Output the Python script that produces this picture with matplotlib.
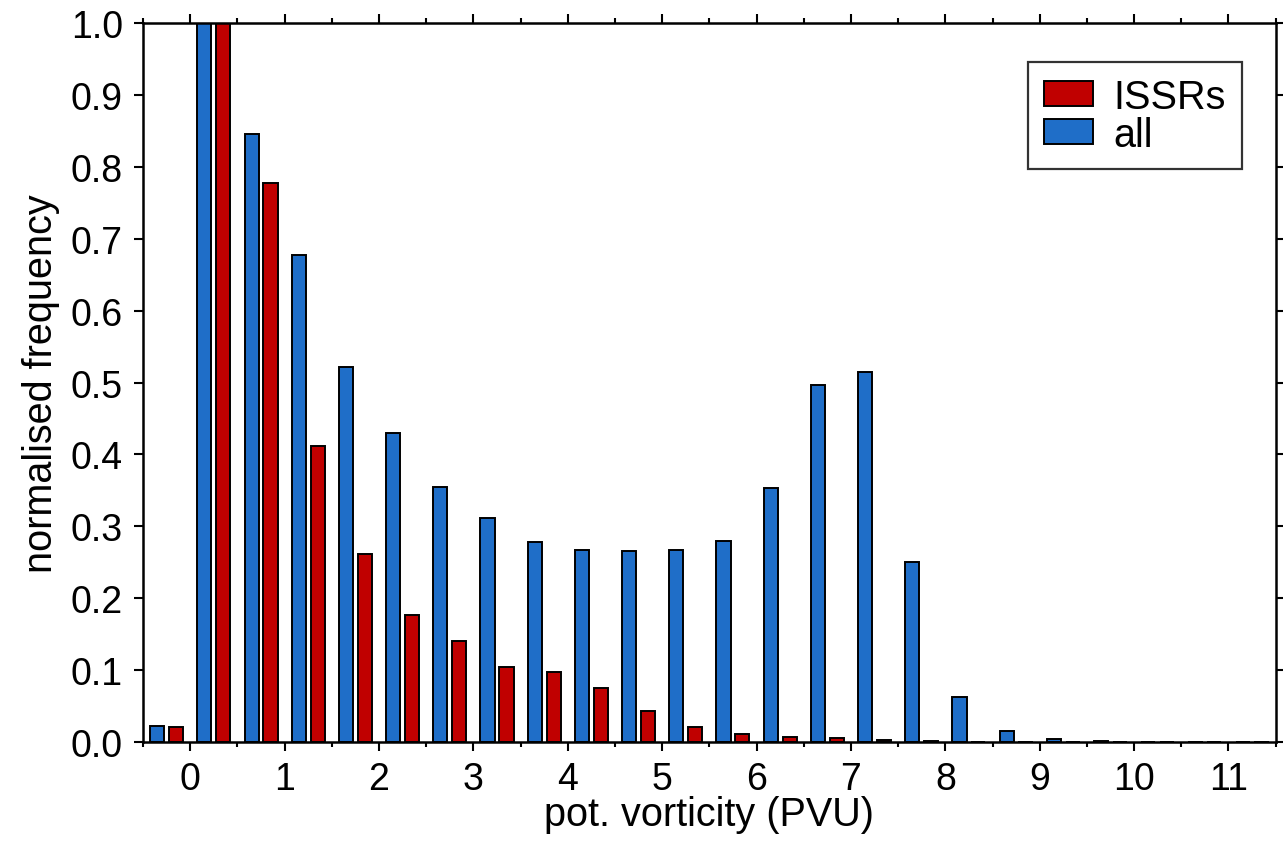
import matplotlib
matplotlib.use("Agg")
import matplotlib.pyplot as plt
import numpy as np
from matplotlib.ticker import MultipleLocator, FormatStrFormatter

plt.rcParams['font.family'] = ['Liberation Sans', 'DejaVu Sans']

# bin centres (PVU)
bin_centres = [-0.25, 0.25, 0.75, 1.25, 1.75, 2.25, 2.75, 3.25, 3.75, 4.25, 4.75, 5.25,
               5.75, 6.25, 6.75, 7.25, 7.75, 8.25, 8.75, 9.25, 9.75, 10.25, 10.75, 11.25]
all_freq = [0.022, 1.0, 0.845, 0.677, 0.522, 0.430, 0.355, 0.312, 0.278, 0.267, 0.265, 0.267,
            0.279, 0.353, 0.496, 0.515, 0.251, 0.063, 0.016, 0.0045, 0.0015, 0.0006, 0.0004, 0.0003]
issr_freq = [0.021, 1.0, 0.778, 0.412, 0.262, 0.177, 0.141, 0.105, 0.098, 0.075, 0.043, 0.021,
             0.011, 0.0065, 0.006, 0.003, 0.0012, 0.0006, 0.0003, 0.0002, 0.0001, 0.0001, 0.0001, 0.0001]

blue = '#1f6ec8'
red = '#c00000'

fig = plt.figure(figsize=(12.83, 8.45), dpi=100)
ax = fig.add_axes([0.1115, 0.1207, 0.8828, 0.8509])

x = np.array(bin_centres)
w = 0.15
ax.bar(x - 0.1, all_freq, width=w, color=blue, edgecolor='black', linewidth=1.4, label='all', zorder=2)
ax.bar(x + 0.1, issr_freq, width=w, color=red, edgecolor='black', linewidth=1.4, label='ISSRs', zorder=2)

ax.set_xlim(-0.5, 11.5)
ax.set_ylim(0, 1.0)
ax.xaxis.set_major_locator(MultipleLocator(1))
ax.xaxis.set_minor_locator(MultipleLocator(0.5))
ax.yaxis.set_major_locator(MultipleLocator(0.1))
ax.yaxis.set_major_formatter(FormatStrFormatter('%.1f'))

ax.tick_params(axis='both', which='major', direction='out', length=6.5, width=1.5,
               labelsize=27, top=True, right=True)
ax.tick_params(axis='x', which='major', pad=7)
ax.tick_params(axis='y', which='major', pad=8)
ax.tick_params(axis='x', which='minor', direction='out', length=3.4, width=1.5, top=True)
for s in ax.spines.values():
    s.set_linewidth(1.8)
    s.set_zorder(3)

ax.set_xlabel('pot. vorticity (PVU)', fontsize=28.5, labelpad=-1)
ax.set_ylabel('normalised frequency', fontsize=28.5, labelpad=8)

handles, labels = ax.get_legend_handles_labels()
leg = ax.legend(handles[::-1], labels[::-1], loc='upper right', bbox_to_anchor=(0.9702, 0.946),
                fontsize=28.5, frameon=True, fancybox=False, edgecolor='black',
                handlelength=1.24, handleheight=0.6, labelspacing=0.0, handletextpad=0.53,
                borderpad=0.4, borderaxespad=0)
leg.get_frame().set_linewidth(1.6)

fig.savefig('out.png', dpi=100)
